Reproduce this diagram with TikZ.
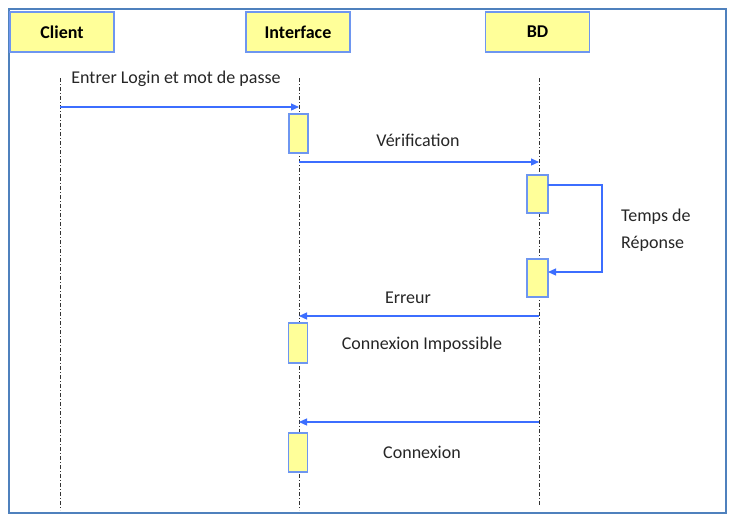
\documentclass[tikz,border=0pt]{standalone}
\usepackage{fontspec}
\setmainfont{Carlito}
\usetikzlibrary{arrows.meta}
\definecolor{frameblue}{RGB}{79,129,189}
\definecolor{boxborder}{RGB}{110,150,240}
\definecolor{boxfill}{RGB}{255,255,153}
\definecolor{msgblue}{RGB}{60,110,255}
\tikzset{
  header/.style={draw=boxborder, line width=1.2pt, fill=boxfill, minimum width=104pt, minimum height=40pt, inner sep=0pt, font=\bfseries\fontsize{18}{20}\selectfont},
  actbox/.style={draw=boxborder, line width=1.2pt, fill=boxfill, minimum width=19pt, minimum height=39pt, inner sep=0pt},
  lifeline/.style={line width=0.6pt, black!80, dash pattern=on 4pt off 2pt on 1pt off 2pt},
  msg/.style={draw=msgblue, line width=1.2pt, -{Triangle[length=8pt,width=7pt]}},
  lbl/.style={font=\fontsize{18}{20}\selectfont, inner sep=0pt, text=black!85}
}
\begin{document}
\begin{tikzpicture}[x=1pt,y=-1pt]
\useasboundingbox (0,0) rectangle (732,523);
\fill[white] (0,0) rectangle (732,523);
\draw[frameblue, line width=2.6pt] (9,9) rectangle (726,513);
% headers
\node[header] (client) at (62,32) {Client};
\node[header] (iface) at (298,32) {Interface};
\node[header] (bd) at (537.5,32) {BD};
% lifelines
\coordinate (cTop) at (60,78); \coordinate (cBot) at (60,510);
\coordinate (iTop) at (299,78); \coordinate (iBot) at (299,510);
\coordinate (bTop) at (539,78); \coordinate (bBot) at (539,505);
\draw[lifeline] (cTop) -- (cBot);
\draw[lifeline] (iTop) -- (iBot);
\draw[lifeline] (bTop) -- (bBot);
% activation boxes
\node[actbox] (a1) at (298.5,133.5) {};
\node[actbox, minimum width=21pt, minimum height=38pt] (b1) at (537.5,194) {};
\node[actbox, minimum width=21pt, minimum height=38pt] (b2) at (537.5,278) {};
\node[actbox, minimum height=40pt] (a2) at (298,343) {};
\node[actbox, minimum height=39pt] (a3) at (298,452.5) {};
% messages
\coordinate (m1s) at (60,107); \coordinate (m1e) at (299,107);
\draw[msg] (m1s) -- (m1e);
\node[lbl] (l1) at (176,79) {Entrer Login et mot de passe};
\coordinate (m2s) at (299,162); \coordinate (m2e) at (539,162);
\draw[msg] (m2s) -- (m2e);
\node[lbl] (l2) at (418,140) {Vérification};
\coordinate (m3s) at (548,185); \coordinate (m3a) at (602,185);
\coordinate (m3b) at (602,272); \coordinate (m3e) at (548,272);
\draw[msg] (m3s) -- (m3a) -- (m3b) -- (m3e);
\node[lbl, anchor=west] (l3a) at (621,217) {Temps de};
\node[lbl, anchor=west] (l3b) at (621,244) {Réponse};
\coordinate (m4s) at (539,316); \coordinate (m4e) at (299,316);
\draw[msg] (m4s) -- (m4e);
\node[lbl] (l4) at (408,298) {Erreur};
\node[lbl] (l5) at (422,345) {Connexion Impossible};
\coordinate (m6s) at (539,422); \coordinate (m6e) at (299,422);
\draw[msg] (m6s) -- (m6e);
\node[lbl] (l6) at (422,452) {Connexion};
\end{tikzpicture}
\end{document}
